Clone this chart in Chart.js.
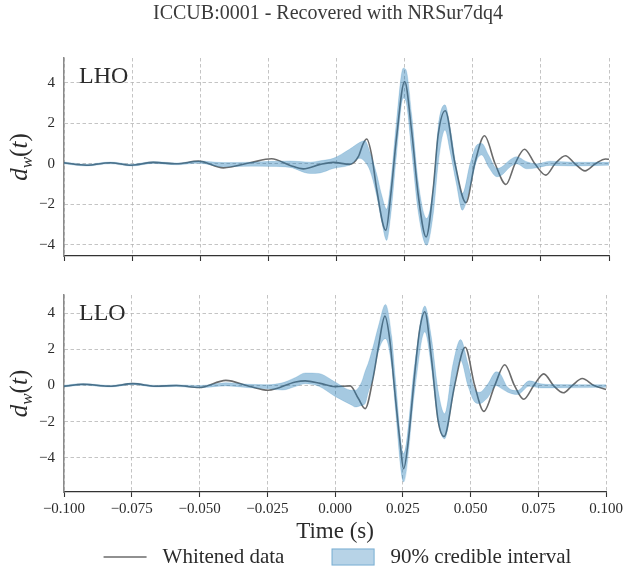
<!DOCTYPE html>
<html>
<head>
<meta charset="utf-8">
<script src="https://cdn.jsdelivr.net/npm/chart.js@4.4.1/dist/chart.umd.min.js"></script>
<style>
  html, body { margin: 0; padding: 0; background: #fff; }
  #wrap { position: relative; width: 626px; height: 576px; }
  #wrap canvas { position: absolute; left: 0; top: 0; }
</style>
</head>
<body>
<div id="wrap">
  <canvas id="lho" width="626" height="576"></canvas>
  <canvas id="llo" width="626" height="576"></canvas>
</div>
<script>
// whitened strain, ICCUB:0001

const xTicks = [-0.1, -0.075, -0.05, -0.025, 0, 0.025, 0.05, 0.075, 0.1];
const yTicks = [-4, -2, 0, 2, 4];

// LHO - whitened data
const lhoTime = [-0.100, -0.0917, -0.0831, -0.0752, -0.0672, -0.0586, -0.0507, -0.0415, -0.0317, -0.0238,
  -0.0170, -0.0122, -0.0060, -0.0012, 0.0049, 0.0080, 0.0098, 0.0111, 0.0129, 0.0147,
  0.0181, 0.0199, 0.0220, 0.0250, 0.0276, 0.0300, 0.0329, 0.0355, 0.0373, 0.0399,
  0.0435, 0.0475, 0.0508, 0.0543, 0.0582, 0.0622, 0.0655, 0.0690, 0.0728, 0.0768,
  0.0802, 0.0840, 0.0875, 0.0912, 0.0950, 0.0988, 0.1000];
const lhoData = [0.05, -0.07, 0.05, -0.07, 0.07, 0.00, 0.13, -0.20, 0.05, 0.25,
  -0.08, -0.25, -0.03, 0.07, -0.03, 0.35, 1.00, 1.22, 0.43, -1.22,
  -3.28, -1.55, 1.26, 4.06, 1.58, -1.55, -3.61, -1.22, 1.42, 2.62,
  0.00, -1.92, 0.05, 1.38, 0.00, -1.02, 0.00, 0.72, 0.00, -0.56,
  0.00, 0.40, 0.00, -0.35, 0.00, 0.24, 0.22];

// LHO - 90% credible interval
const lhoBandTime = [-0.100, -0.0917, -0.0831, -0.0752, -0.0672, -0.0586, -0.0507, -0.0415, -0.0317, -0.0238,
  -0.0170, -0.0097, -0.0060, -0.0012, 0.0049, 0.0086, 0.0104, 0.0122, 0.0147, 0.0166,
  0.0184, 0.0199, 0.0220, 0.0245, 0.0255, 0.0276, 0.0300, 0.0331, 0.0356, 0.0374,
  0.0398, 0.0417, 0.0440, 0.0462, 0.0490, 0.0515, 0.0533, 0.0558, 0.0589, 0.0607,
  0.0637, 0.0661, 0.0698, 0.0735, 0.0783, 0.0868, 0.1000];
const lhoLow = [0.00, -0.11, 0.00, -0.11, 0.02, -0.05, 0.03, -0.15, -0.12, -0.13,
  -0.18, -0.48, -0.45, -0.23, -0.06, 0.27, 0.10, -0.31, -1.55, -2.87,
  -3.78, -2.54, 0.43, 3.24, 3.07, 0.60, -2.38, -4.02, -2.38, 0.10,
  1.67, 0.60, -1.00, -2.29, -1.15, 0.18, 0.43, -0.16, -0.64, -0.55,
  -0.16, 0.00, -0.25, -0.20, -0.08, -0.11, -0.07];
const lhoHigh = [0.09, -0.02, 0.09, -0.02, 0.11, 0.04, 0.14, 0.06, 0.08, 0.12,
  0.14, 0.08, 0.15, 0.27, 0.73, 1.06, 1.14, 0.60, -0.48, -1.55,
  -2.24, -0.89, 2.08, 4.72, 4.64, 2.41, -0.89, -2.70, -1.06, 1.92,
  2.91, 1.80, -0.20, -1.47, 0.00, 0.93, 1.00, 0.43, -0.23, -0.15,
  0.20, 0.35, 0.10, 0.00, 0.13, 0.08, 0.07];

// LLO - whitened data
const lloTime = [-0.100, -0.0929, -0.0831, -0.0746, -0.0660, -0.0586, -0.0501, -0.0403, -0.0317, -0.0247,
  -0.0146, -0.0110, -0.0055, 0.0000, 0.0056, 0.0086, 0.0111, 0.0141, 0.0160, 0.0184,
  0.0202, 0.0220, 0.0239, 0.0253, 0.0269, 0.0294, 0.0312, 0.0331, 0.0355, 0.0380,
  0.0402, 0.0441, 0.0480, 0.0515, 0.0549, 0.0589, 0.0626, 0.0662, 0.0696, 0.0733,
  0.0770, 0.0806, 0.0842, 0.0875, 0.0912, 0.0955, 0.1000];
const lloData = [-0.04, 0.07, -0.04, 0.11, -0.04, 0.00, -0.11, 0.29, -0.04, -0.26,
  0.20, 0.26, 0.12, -0.06, -0.02, -0.72, -1.28, 0.48, 2.15, 3.85,
  2.52, -0.26, -3.04, -4.61, -3.22, 0.67, 3.07, 4.09, 1.59, -1.93,
  -2.82, 0.00, 2.12, 0.00, -1.43, 0.00, 1.15, 0.00, -0.76, 0.00,
  0.65, 0.00, -0.40, 0.00, 0.39, 0.00, -0.22];

// LLO - 90% credible interval
const lloBandTime = [-0.100, -0.0929, -0.0831, -0.0746, -0.0660, -0.0586, -0.0501, -0.0403, -0.0317, -0.0247,
  -0.0195, -0.0146, -0.0110, -0.0060, 0.0000, 0.0062, 0.0074, 0.0098, 0.0111, 0.0122,
  0.0141, 0.0160, 0.0186, 0.0209, 0.0222, 0.0253, 0.0294, 0.0331, 0.0355, 0.0380,
  0.0404, 0.0435, 0.0463, 0.0490, 0.0515, 0.0533, 0.0564, 0.0594, 0.0607, 0.0637,
  0.0673, 0.0716, 0.0759, 0.0796, 0.1000];
const lloLow = [-0.08, 0.02, -0.08, 0.05, -0.08, -0.05, -0.12, -0.02, -0.12, -0.18,
  -0.25, -0.05, 0.10, -0.04, -0.60, -1.09, -1.19, -1.10, -1.00, -0.40,
  0.46, 1.90, 2.60, 1.04, -1.20, -5.35, -0.26, 2.98, 1.04, -2.04,
  -2.95, -0.60, 1.40, 0.00, -0.91, -1.00, -0.65, 0.00, -0.10, -0.37,
  -0.50, -0.04, -0.13, -0.13, -0.10];
const lloHigh = [0.02, 0.11, 0.01, 0.14, 0.01, 0.05, 0.00, 0.16, 0.07, 0.05,
  0.15, 0.45, 0.70, 0.67, 0.20, -0.26, -0.26, 0.20, 0.80, 1.22,
  2.20, 3.30, 4.50, 2.70, 0.46, -3.78, 1.22, 4.41, 2.70, -0.26,
  -1.56, 1.20, 2.55, 1.22, -0.20, -0.37, 0.10, 0.76, 0.70, -0.10,
  -0.28, 0.26, 0.10, 0.06, 0.05];

const serif = "'Liberation Serif', 'DejaVu Serif', serif";
const textColor = '#2b2b2b';
const lineGrey = '#6b6b6b';
const bandFill = 'rgba(31, 119, 180, 0.40)';
const bandEdge = 'rgba(31, 119, 180, 0.22)';
const gridGrey = '#b5b5b5';

Chart.defaults.font.family = serif;
Chart.defaults.color = textColor;

const pts = (t, v) => t.map((x, i) => ({x: x, y: v[i]}));
const fmtX = v => (v < -1e-9 ? '\u2212' : '') + Math.abs(v).toFixed(3);
const fmtY = v => (v < 0 ? '\u2212' + Math.abs(v) : String(v));

function drawYLabel(ctx, x, y) {
  const parts = [
    {t: 'd', f: `italic 25px ${serif}`, dy: 0},
    {t: 'w', f: `italic 17px ${serif}`, dy: 5},
    {t: '(', f: `25px ${serif}`, dy: 0},
    {t: 't', f: `italic 25px ${serif}`, dy: 0},
    {t: ')', f: `25px ${serif}`, dy: 0}
  ];
  ctx.save();
  ctx.translate(x, y);
  ctx.rotate(-Math.PI / 2);
  let w = 0;
  parts.forEach(p => { ctx.font = p.f; p.w = ctx.measureText(p.t).width; w += p.w; });
  let cx = -w / 2;
  ctx.textAlign = 'left';
  ctx.textBaseline = 'alphabetic';
  parts.forEach(p => { ctx.font = p.f; ctx.fillText(p.t, cx, p.dy); cx += p.w; });
  ctx.restore();
}

// legend under the lower panel, placed from the plot centre
function drawLegend(ctx, cx, y) {
  ctx.font = `21px ${serif}`;
  const box = 43, gap = 16;
  let x = cx - 231.5;
  ctx.strokeStyle = lineGrey;
  ctx.lineWidth = 1.6;
  ctx.beginPath();
  ctx.moveTo(x, y);
  ctx.lineTo(x + box, y);
  ctx.stroke();
  ctx.textBaseline = 'middle';
  ctx.textAlign = 'left';
  ctx.fillText('Whitened data', x + box + gap, y);
  x = cx - 3.5;
  ctx.fillStyle = 'rgba(31, 119, 180, 0.32)';
  ctx.fillRect(x, y - 8.5, box, 17);
  ctx.strokeStyle = 'rgba(31, 119, 180, 0.40)';
  ctx.lineWidth = 1;
  ctx.strokeRect(x + 0.5, y - 8, box - 1, 16);
  ctx.fillStyle = textColor;
  ctx.fillText('90% credible interval', x + box + gap, y);
}

const decor = {
  id: 'decor',
  afterDraw(chart, args, o) {
    const {ctx, chartArea: a} = chart;
    ctx.save();
    ctx.fillStyle = textColor;
    ctx.textAlign = 'left';
    ctx.textBaseline = 'alphabetic';
    ctx.font = `24px ${serif}`;
    ctx.fillText(o.site, a.left + 15, a.top + 25);
    drawYLabel(ctx, 27, (a.top + a.bottom) / 2);
    if (o.title) {
      ctx.textAlign = 'center';
      ctx.textBaseline = 'middle';
      ctx.fillStyle = '#3a3a3a';
      ctx.font = `20px ${serif}`;
      ctx.fillText(o.title, 328, 14);
    }
    if (o.legend) drawLegend(ctx, (a.left + a.right) / 2, 557);
    ctx.restore();
  }
};

function makeChart(id, cfg) {
  const ctx = document.getElementById(id).getContext('2d');
  return new Chart(ctx, {
    type: 'line',
    data: {
      datasets: [
        {
          label: '90% credible interval',
          data: pts(cfg.bandTime, cfg.high),
          borderColor: bandEdge,
          borderWidth: 0.8,
          backgroundColor: bandFill,
          fill: '+1',
          pointRadius: 0,
          cubicInterpolationMode: 'monotone'
        },
        {
          label: 'low',
          data: pts(cfg.bandTime, cfg.low),
          borderColor: bandEdge,
          borderWidth: 0.8,
          fill: false,
          pointRadius: 0,
          cubicInterpolationMode: 'monotone'
        },
        {
          label: 'Whitened data',
          data: pts(cfg.time, cfg.data),
          borderColor: lineGrey,
          borderWidth: 1.6,
          fill: false,
          pointRadius: 0,
          cubicInterpolationMode: 'monotone'
        }
      ]
    },
    options: {
      responsive: false,
      animation: false,
      devicePixelRatio: 1,
      layout: { padding: cfg.padding },
      plugins: {
        legend: { display: false },
        tooltip: { enabled: false },
        decor: { site: cfg.site, title: cfg.title, legend: cfg.legend }
      },
      scales: {
        x: {
          type: 'linear',
          min: -0.1,
          max: 0.1,
          afterBuildTicks: s => { s.ticks = xTicks.map(v => ({value: v})); },
          afterFit: s => { s.height = cfg.xHeight; },
          grid: { color: gridGrey, lineWidth: 0.8, drawTicks: true, tickLength: 5,
                  tickColor: '#333', tickWidth: 1.1, tickBorderDash: [] },
          border: { color: '#333', width: 1.2, dash: [3.5, 2.5] },
          ticks: { display: cfg.xLabels, font: { size: 15 }, color: textColor, padding: 3,
                   maxRotation: 0, autoSkip: false, callback: fmtX },
          title: {
            display: cfg.xLabels,
            text: 'Time (s)',
            font: { size: 23, lineHeight: 1.2 },
            color: textColor,
            padding: { top: 0, bottom: 6 }
          }
        },
        y: {
          min: cfg.yMin,
          max: cfg.yMax,
          afterBuildTicks: s => { s.ticks = yTicks.map(v => ({value: v})); },
          afterFit: s => { s.width = 64; },
          grid: { color: gridGrey, lineWidth: 0.8, drawTicks: false },
          border: { color: '#8a8a8a', width: 1.5, dash: [3.5, 2.5] },
          ticks: { font: { size: 15 }, color: textColor, padding: 9, callback: fmtY }
        }
      }
    },
    plugins: [decor]
  });
}

makeChart('lho', {
  site: 'LHO',
  title: 'ICCUB:0001 - Recovered with NRSur7dq4',
  time: lhoTime, data: lhoData,
  bandTime: lhoBandTime, low: lhoLow, high: lhoHigh,
  yMin: -4.55, yMax: 5.22,
  xLabels: false, xHeight: 10,
  padding: { top: 58, bottom: 310, left: 0, right: 17 }
});

makeChart('llo', {
  site: 'LLO',
  legend: true,
  time: lloTime, data: lloData,
  bandTime: lloBandTime, low: lloLow, high: lloHigh,
  yMin: -5.9, yMax: 5.02,
  xLabels: true, xHeight: 60,
  padding: { top: 295, bottom: 24, left: 0, right: 17 }
});
</script>
</body>
</html>
